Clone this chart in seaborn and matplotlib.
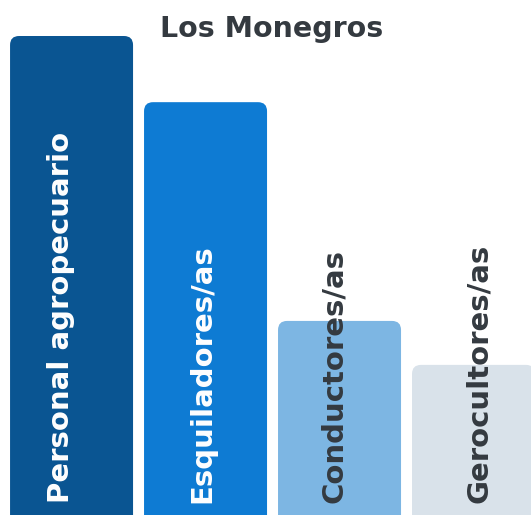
import matplotlib
matplotlib.use("Agg")
import matplotlib.pyplot as plt
import matplotlib.transforms as mtransforms
from matplotlib.patches import FancyBboxPatch
import seaborn as sns
import pandas as pd

categories = ["Personal agropecuario", "Esquiladores/as", "Conductores/as", "Gerocultores/as"]
values = [100, 86.6, 42.3, 33.4]
bar_colors = ["#0a5592", "#0e7bd3", "#7db6e3", "#d9e2ea"]
text_colors = ["#ffffff", "#ffffff", "#343a40", "#343a40"]
title = "Los Monegros"

df = pd.DataFrame({"cat": categories, "val": values})

sns.set_theme(style="white")
plt.rcParams["font.family"] = ["DejaVu Sans"]

fig = plt.figure(figsize=(5.31, 5.15), dpi=100)
ax = fig.add_axes([0, 0, 1, 1])
sns.barplot(data=df, x="cat", y="val", hue="cat", palette=bar_colors,
            width=0.918, legend=False, ax=ax, saturation=1)
ax.set_xlim(-0.534, 3.429)
ax.set_ylim(3, 107.29)
ax.set_axis_off()

# data units per pixel, used to keep the corner rounding circular
ylo, yhi = ax.get_ylim()
y_per_px = (yhi - ylo) / 515
x_per_px = (3.429 + 0.534) / 531
for p in list(ax.patches):
    x0, y0 = p.get_x(), p.get_y()
    w, h = p.get_width(), p.get_height()
    fc = p.get_facecolor()
    p.remove()
    ax.add_patch(FancyBboxPatch((x0, y0 - 5), w, h + 5,
                                boxstyle=f"round,pad=0,rounding_size={9 * x_per_px}",
                                mutation_aspect=y_per_px / x_per_px,
                                facecolor=fc, edgecolor="none"))

offsets = [-3, 4.5, 2.5, 13.5]
for i, (cat, tc) in enumerate(zip(categories, text_colors)):
    tr = mtransforms.offset_copy(ax.transData, fig=fig, x=offsets[i] * 0.72, y=12 * 0.72, units="points")
    ax.text(i, ylo, cat, rotation=90, rotation_mode="anchor", ha="left", va="baseline",
            color=tc, fontsize=21, fontweight="bold", transform=tr)

fig.text(0.512, 1 - 37 / 515, title, ha="center", va="baseline", fontsize=20.5,
         fontweight="bold", color="#343a40")

fig.savefig("out.png", dpi=100)
